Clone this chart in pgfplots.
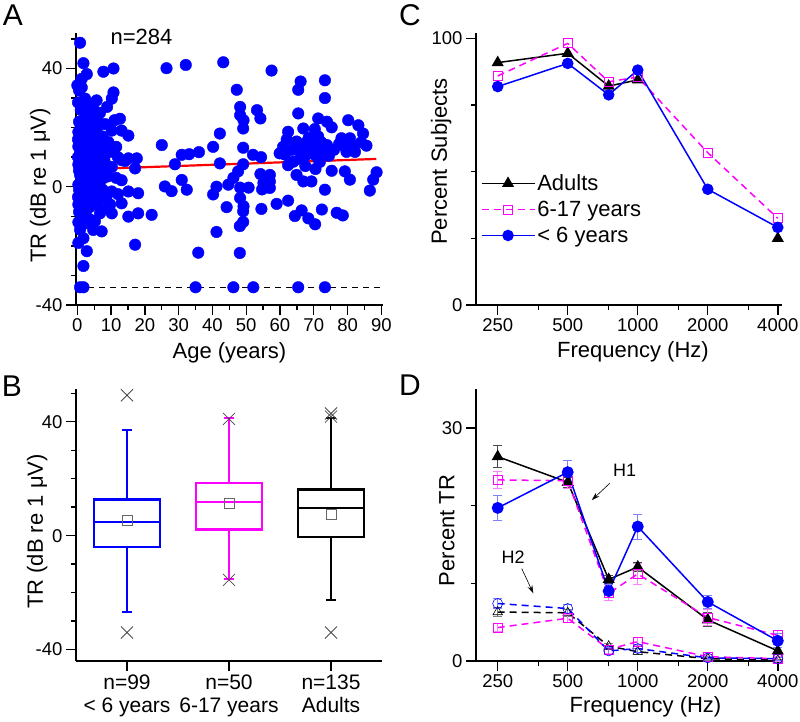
\documentclass[border=0pt]{standalone}
\usepackage{fontspec}
\setmainfont{Liberation Sans}
\usepackage{pgfplots}
\pgfplotsset{compat=1.18}
\usetikzlibrary{arrows.meta}
\definecolor{mag}{RGB}{255,0,255}
\pgfplotsset{
 panel/.style={
  scale only axis, width=306pt, height=272pt,
  axis x line*=bottom, axis y line*=left,
  axis line style={-, line width=1.4pt},
  every tick/.style={black, line width=1.4pt},
  tick align=outside,
  major tick length=10pt, minor tick length=5pt,
  tick label style={font=\fontsize{18.5}{20}\selectfont},
  label style={font=\fontsize{22}{24}\selectfont},
  /pgf/number format/assume math mode=true,
  clip=false,
 },
 freq/.style={
  xmin=-0.31, xmax=4.06,
  xtick={0,1,2,3,4}, xticklabels={250,500,1000,2000,4000},
  minor xtick={0.585,1.585,2.585,3.585},
 },
}
\begin{document}
\begin{tikzpicture}
\useasboundingbox (0,0) rectangle (800pt,721pt);
% panel letters
\node[font=\fontsize{30}{32}\selectfont] at (13pt,706pt) {A};
\node[font=\fontsize{30}{32}\selectfont] at (12pt,335pt) {B};
\node[font=\fontsize{30}{32}\selectfont] at (410pt,706pt) {C};
\node[font=\fontsize{30}{32}\selectfont] at (410pt,336pt) {D};
% ---------------- A ----------------
\begin{axis}[panel, width=307pt, at={(76pt,416pt)}, anchor=south west,
 xmin=-0.4, xmax=90.5, ymin=-40, ymax=52,
 xtick={0,10,...,90}, minor xtick={5,15,...,85},
 ytick={-40,0,40}, minor ytick={-30,-20,-10,10,20,30,50},
 xlabel={Age (years)}, ylabel={TR (dB re 1 μV)},
 xlabel style={at={(axis description cs:0.5,-0.176)}, anchor=center},
 ylabel style={at={(axis description cs:-0.117,0.44)}, anchor=center}]
\addplot[only marks, mark=*, mark size=5.8pt, draw=blue, fill=blue, mark options={draw=blue, fill=blue}] coordinates {
(0.8,48.7) (1.8,41.8) (2.8,38.1) (0.0,34.3) (0.5,32.6) (1.3,36.5) (1.3,33.6) (2.3,29.8) (3.3,27.5) (5.7,29.2)
(4.7,26.4) (1.8,22.4) (4.7,23.0) (2.3,19.0) (5.7,19.6) (1.3,15.1) (3.8,15.6) (0.8,11.8) (3.8,12.9) (0.3,13.6)
(2.3,13.0) (0.8,10.8) (3.3,10.2) (0.3,7.5) (2.3,7.0) (4.2,7.2) (0.8,4.0) (3.3,3.5) (5.7,4.0) (0.3,0.7)
(2.3,0.1) (4.7,0.7) (0.8,-2.7) (3.3,-3.2) (5.7,-2.1) (0.3,-6.0) (2.8,-5.4) (1.3,-9.4) (3.8,-11.1) (5.2,-11.7)
(2.8,-12.3) (4.7,-14.6) (1.8,-17.4) (0.3,-19.0) (2.8,-21.8) (1.8,-26.8) (0.8,-34) (1.8,-34)
(0.2,28.5) (1.0,26.0) (0.5,22.0) (2.8,24.5) (3.5,21.0) (0.3,18.5) (1.0,20.5) (2.5,16.5) (4.5,17.0) (5.5,14.0)
(0.2,16.0) (1.5,12.0) (2.8,14.5) (4.8,11.0) (5.3,9.0) (1.2,8.5) (1.8,9.8) (3.0,8.2) (4.0,9.5) (5.0,6.0)
(0.5,5.5) (1.5,5.0) (2.5,4.5) (3.8,5.5) (4.5,3.0) (1.2,2.0) (1.8,2.8) (3.0,1.5) (4.0,-0.5) (5.2,1.5)
(0.5,-1.0) (1.5,-1.5) (2.2,-3.5) (4.2,-3.8) (1.0,-4.5) (1.8,-6.5) (3.5,-7.0) (4.8,-6.0) (0.5,-8.5) (2.5,-9.5)
(0.3,-12.0) (1.5,-11.0) (0.8,-14.5) (0.2,-3.5) (2.0,-1.0) (3.5,-1.5) (5.5,-5.0) (0.2,10.0) (1.0,14.0) (2.0,11.0) (4.2,14.8)
(7.7,38.9) (10.7,40.0) (10.7,31.9) (10.2,29.8) (6.7,25.0) (12.6,23.0) (8.2,21.2) (10.2,19.0) (13.1,19.0) (15.1,17.3)
(6.7,14.5) (9.2,15.1) (6.2,11.8) (9.7,11.8) (13.1,9.0) (15.1,9.6) (17.6,9.6) (17.1,6.2) (10.2,6.7) (13.1,2.2)
(15.1,-1.6) (10.2,-1.6) (13.1,-5.6) (7.2,-7.8) (10.2,-9.0) (15.1,-10.1) (7.2,-15.1) (17.1,-19.6) (6.5,21.5) (7.5,17.0)
(8.5,13.0) (6.5,8.5) (8.0,9.0) (7.0,5.0) (9.0,3.5) (8.5,6.5) (6.5,1.5) (7.5,-1.0) (8.5,-4.0) (6.5,-4.5)
(11.5,13.5) (12.0,10.0) (11.5,3.0) (7.7,2.9) (9.7,-6.0) (6.7,-9.0) (11.0,22.5) (8.8,27.0) (12.0,-2.5) (14.1,8.7)
(18.0,-2.2) (18.0,-9.0) (22.0,-9.5) (25.0,14.1) (25.9,0.1) (26.4,40.1) (32.1,41.2) (43.2,42.1) (57.5,39.3) (47.2,32.8)
(48.2,27.0) (48.2,24.2) (49.2,22.5) (53.2,25.9) (54.2,23.1) (49.1,19.7) (42.2,18.0) (40.2,13.5) (49.1,13.2) (52.0,10.8)
(54.4,10.0) (30.9,10.8) (33.1,11.0) (36.0,11.7) (28.9,7.6) (42.2,7.9) (49.1,7.6) (47.6,5.2) (46.2,3.0) (44.7,0.7)
(54.2,4.3) (55.1,1.3) (54.7,-0.9) (27.9,-1.5) (30.9,2.3) (32.4,-1.0) (41.2,0.0) (40.2,-2.6) (48.2,-0.3) (50.7,-0.3)
(48.2,-3.8) (49.2,-6.6) (49.1,-8.3) (44.2,-6.9) (54.5,-7.5) (49.1,-11.9) (48.1,-13.3) (41.2,-15.3) (35.8,-22.3) (48.1,-22.4)
(35.0,-34) (46.2,-34) (52.1,-34)
(66.1,35.6) (65.4,32.8) (73.3,36.0) (73.3,30.0) (65.4,24.8) (71.3,23.1) (73.9,22.0) (75.3,20.1) (80.2,22.5) (83.2,20.8)
(84.6,18.0) (62.4,18.6) (66.9,19.7) (70.3,19.5) (71.3,17.0) (72.3,15.0) (78.2,16.4) (80.7,16.4) (85.6,13.9) (60.9,13.5)
(59.9,11.3) (61.4,10.9) (64.9,15.3) (67.4,14.7) (69.3,14.1) (73.9,14.1) (79.2,13.5) (82.2,11.8) (79.7,11.8) (67.4,10.3)
(71.3,9.5) (62.4,7.3) (65.9,9.5) (71.8,8.4) (57.0,4.0) (64.9,4.0) (66.9,1.8) (69.3,1.8) (75.3,5.4) (79.2,5.2)
(80.7,2.4) (73.3,-1.0) (86.6,-1.3) (87.6,2.4) (88.6,4.9) (59.0,-5.8) (62.4,-4.7) (64.4,-9.9) (66.4,-8.0) (68.4,-10.7)
(70.4,-12.7) (72.4,-7.7) (76.8,-8.8) (78.6,-9.7) (57.0,1.8) (57.0,-0.4) (65.4,-34) (73.3,-34)
(63.5,12.5) (68.0,12.0) (70.0,11.0) (74.5,10.5) (76.0,12.5) (68.5,16.5) (64.0,8.5) (70.5,6.0) (62.0,16.0) (67.5,7.0)
(77.5,14.5) (81.5,14.0) (84.0,15.0) (72.0,12.5) (66.0,12.0)
};
\addplot[red, line width=2.2pt] coordinates {(0,5.8) (88.5,9.4)};
\addplot[black, line width=1.2pt, dash pattern=on 6pt off 5pt] coordinates {(0,-34) (90,-34)};
\node[font=\fontsize{22}{24}\selectfont] at (axis cs:19.0,50.7) {n=284};
\end{axis}
% ---------------- B ----------------
\begin{axis}[panel, at={(76pt,60pt)}, anchor=south west,
 xmin=0.5, xmax=3.5, ymin=-44, ymax=51.5,
 xtick={1,2,3},
 xticklabels={{n=99\\< 6 years},{n=50\\6-17 years},{n=135\\Adults}},
 xticklabel style={align=center, font=\fontsize{21}{23.5}\selectfont},
 ytick={-40,0,40}, minor ytick={-30,-20,-10,10,20,30,50},
 ylabel={TR (dB re 1 μV)},
 ylabel style={at={(axis description cs:-0.127,0.476)}, anchor=center}]
% < 6 years
\addplot[blue, line width=2.2pt] coordinates {(0.68,-3.9) (1.32,-3.9) (1.32,12.7) (0.68,12.7)} -- cycle;
\addplot[blue, line width=2.2pt] coordinates {(0.68,4.8) (1.32,4.8)};
\addplot[blue, line width=2.2pt] coordinates {(1,12.7) (1,37.2)};
\addplot[blue, line width=2.2pt] coordinates {(1,-3.9) (1,-26.9)};
\addplot[blue, line width=2.2pt] coordinates {(0.955,37.2) (1.045,37.2)};
\addplot[blue, line width=2.2pt] coordinates {(0.955,-26.9) (1.045,-26.9)};
% 6-17 years
\addplot[mag, line width=2.2pt] coordinates {(1.68,2.2) (2.32,2.2) (2.32,18.5) (1.68,18.5)} -- cycle;
\addplot[mag, line width=2.2pt] coordinates {(1.68,11.7) (2.32,11.7)};
\addplot[mag, line width=2.2pt] coordinates {(2,18.5) (2,41.4)};
\addplot[mag, line width=2.2pt] coordinates {(2,2.2) (2,-15.2)};
\addplot[mag, line width=2.2pt] coordinates {(1.955,41.4) (2.045,41.4)};
\addplot[mag, line width=2.2pt] coordinates {(1.955,-15.2) (2.045,-15.2)};
% Adults
\addplot[black, line width=2.2pt] coordinates {(2.68,-0.6) (3.32,-0.6) (3.32,16.2) (2.68,16.2)} -- cycle;
\addplot[black, line width=2.2pt] coordinates {(2.68,9.7) (3.32,9.7)};
\addplot[black, line width=2.2pt] coordinates {(3,16.2) (3,41.4)};
\addplot[black, line width=2.2pt] coordinates {(3,-0.6) (3,-22.5)};
\addplot[black, line width=2.2pt] coordinates {(2.955,41.4) (3.045,41.4)};
\addplot[black, line width=2.2pt] coordinates {(2.955,-22.5) (3.045,-22.5)};
% means and extremes
\addplot[only marks, mark=square, mark size=5pt, mark options={draw=black!60, line width=0.8pt}] coordinates {(1,5.4) (2,11.5) (3,7.6)};
\addplot[only marks, mark=x, mark size=8.5pt, mark options={draw=black!70, line width=0.8pt}] coordinates {(1,49.3) (1,-34) (2,41) (2,-15.5) (3,42.9) (3,41.8) (3,-34)};
\end{axis}
% ---------------- C ----------------
\begin{axis}[panel, freq, at={(476pt,416pt)}, anchor=south west,
 ymin=0, ymax=102,
 ytick={0,100}, minor ytick={25,50,75},
 xlabel={Frequency (Hz)}, ylabel={Percent Subjects},
 xlabel style={at={(axis description cs:0.513,-0.173)}, anchor=center},
 ylabel style={at={(axis description cs:-0.114,0.527)}, anchor=center},
 unbounded coords=jump,
 legend style={at={(axis description cs:0.015,0.487)}, anchor=north west, draw=none, fill=none,
   font=\fontsize{22}{24}\selectfont, row sep=5pt, inner sep=0pt, nodes={inner sep=2pt}},
 legend cell align=left,
 legend image code/.code={\draw[mark repeat=2, mark phase=2, #1] plot coordinates {(0pt,0pt) (26.5pt,0pt) (53pt,0pt)};}]
% x: octaves above 250 Hz (250,500,750,1000,2000,4000)
\addplot[black, line width=1.5pt, mark=triangle*, mark size=5.5pt, mark options={solid, fill=black}] coordinates {(0,90.9) (1,94.4) (1.585,82.1) (2,84.4) (3,nan) (4,25.0)};
\addlegendentry{Adults}
\addplot[mag, line width=1.5pt, dash pattern=on 7pt off 5pt, mark=square, mark size=4.5pt, mark options={solid, draw=mag, fill=white, line width=0.8pt}] coordinates {(0,85.9) (1,98.1) (1.585,83.7) (2,85.5) (3,57.1) (4,32.5)};
\addlegendentry{6-17 years}
\addplot[blue, line width=1.5pt, mark=*, mark size=5pt, mark options={solid, fill=blue}] coordinates {(0,81.9) (1,90.6) (1.585,78.8) (2,88.1) (3,43.4) (4,29.1)};
\addlegendentry{< 6 years}
\end{axis}
% ---------------- D ----------------
\begin{axis}[panel, freq, at={(476pt,60pt)}, anchor=south west,
 ymin=0, ymax=35,
 ytick={0,30}, minor ytick={10,20},
 xlabel={Frequency (Hz)}, ylabel={Percent TR},
 xlabel style={at={(axis description cs:0.554,-0.169)}, anchor=center},
 ylabel style={at={(axis description cs:-0.095,0.48)}, anchor=center}]
% H2
\addplot[black, line width=1.5pt, dash pattern=on 7pt off 5pt, mark=triangle, mark size=5.5pt, mark options={solid, fill=white, line width=0.6pt},
 error bars/.cd, y dir=both, y explicit, error bar style={black!50, line width=0.7pt, solid}, error mark options={rotate=90, mark size=4.5pt, black!50, line width=0.7pt}]
 coordinates {(0,6.3) +- (0,0.6) (1,6.2) +- (0,0.5) (1.585,1.9) +- (0,0.4) (2,1.2) +- (0,0.4) (3,0.3) +- (0,0.2) (4,0.1) +- (0,0.1)};
\addplot[mag, line width=1.5pt, dash pattern=on 7pt off 5pt, mark=square, mark size=4.5pt, mark options={solid, fill=white, line width=0.6pt},
 error bars/.cd, y dir=both, y explicit, error bar style={mag!50, line width=0.7pt, solid}, error mark options={rotate=90, mark size=4.5pt, mag!50, line width=0.7pt}]
 coordinates {(0,4.3) +- (0,0.5) (1,5.5) +- (0,0.5) (1.585,1.5) +- (0,0.5) (2,2.5) +- (0,0.5) (3,0.55) +- (0,0.3) (4,0.3) +- (0,0.3)};
\addplot[blue, line width=1.5pt, dash pattern=on 7pt off 5pt, mark=o, mark size=5pt, mark options={solid, fill=white, line width=0.6pt},
 error bars/.cd, y dir=both, y explicit, error bar style={blue!50, line width=0.7pt, solid}, error mark options={rotate=90, mark size=4.5pt, blue!50, line width=0.7pt}]
 coordinates {(0,7.4) +- (0,0.6) (1,6.75) +- (0,0.6) (1.585,1.3) +- (0,0.5) (2,1.6) +- (0,0.5) (3,0.4) +- (0,0.2) (4,0.3) +- (0,0.2)};
% H1
\addplot[black, line width=1.5pt, mark=triangle*, mark size=5.5pt, mark options={solid, fill=black},
 error bars/.cd, y dir=both, y explicit, error bar style={black!70, line width=0.7pt}, error mark options={rotate=90, mark size=4.5pt, black!70, line width=0.7pt}]
 coordinates {(0,26.3) +- (0,1.4) (1,23.0) +- (0,0.6) (1.585,10.5) +- (0,0.5) (2,12.1) +- (0,0.6) (3,5.3) +- (0,0.9) (4,1.3) +- (0,0.5)};
\addplot[mag, line width=1.5pt, dash pattern=on 7pt off 5pt, mark=square, mark size=4.5pt, mark options={solid, fill=white, line width=0.8pt},
 error bars/.cd, y dir=both, y explicit, error bar style={mag!50, line width=0.7pt, solid}, error mark options={rotate=90, mark size=4.5pt, mag!50, line width=0.7pt}]
 coordinates {(0,23.3) +- (0,1.1) (1,23.2) +- (0,1.0) (1.585,8.7) +- (0,0.9) (2,11.2) +- (0,1.4) (3,5.6) +- (0,1.0) (4,3.3) +- (0,0.7)};
\addplot[blue, line width=1.5pt, mark=*, mark size=5.2pt, mark options={solid, fill=blue},
 error bars/.cd, y dir=both, y explicit, error bar style={blue!50, line width=0.7pt}, error mark options={rotate=90, mark size=4.5pt, blue!50, line width=0.7pt}]
 coordinates {(0,19.7) +- (0,1.6) (1,24.3) +- (0,1.5) (1.585,9.0) +- (0,0.8) (2,17.3) +- (0,1.6) (3,7.6) +- (0,0.8) (4,2.6) +- (0,0.9)};
\node[font=\fontsize{18}{20}\selectfont] at (axis cs:1.814,24.5) {H1};
\draw[-{Stealth[length=8pt,width=5pt]}, line width=0.6pt] (axis cs:1.604,22.9) -- (axis cs:1.343,20.7);
\node[font=\fontsize{18}{20}\selectfont] at (axis cs:0.22,13.4) {H2};
\draw[-{Stealth[length=8pt,width=5pt]}, line width=0.6pt] (axis cs:0.343,11.9) -- (axis cs:0.509,8.7);
\end{axis}
\end{tikzpicture}
\end{document}
